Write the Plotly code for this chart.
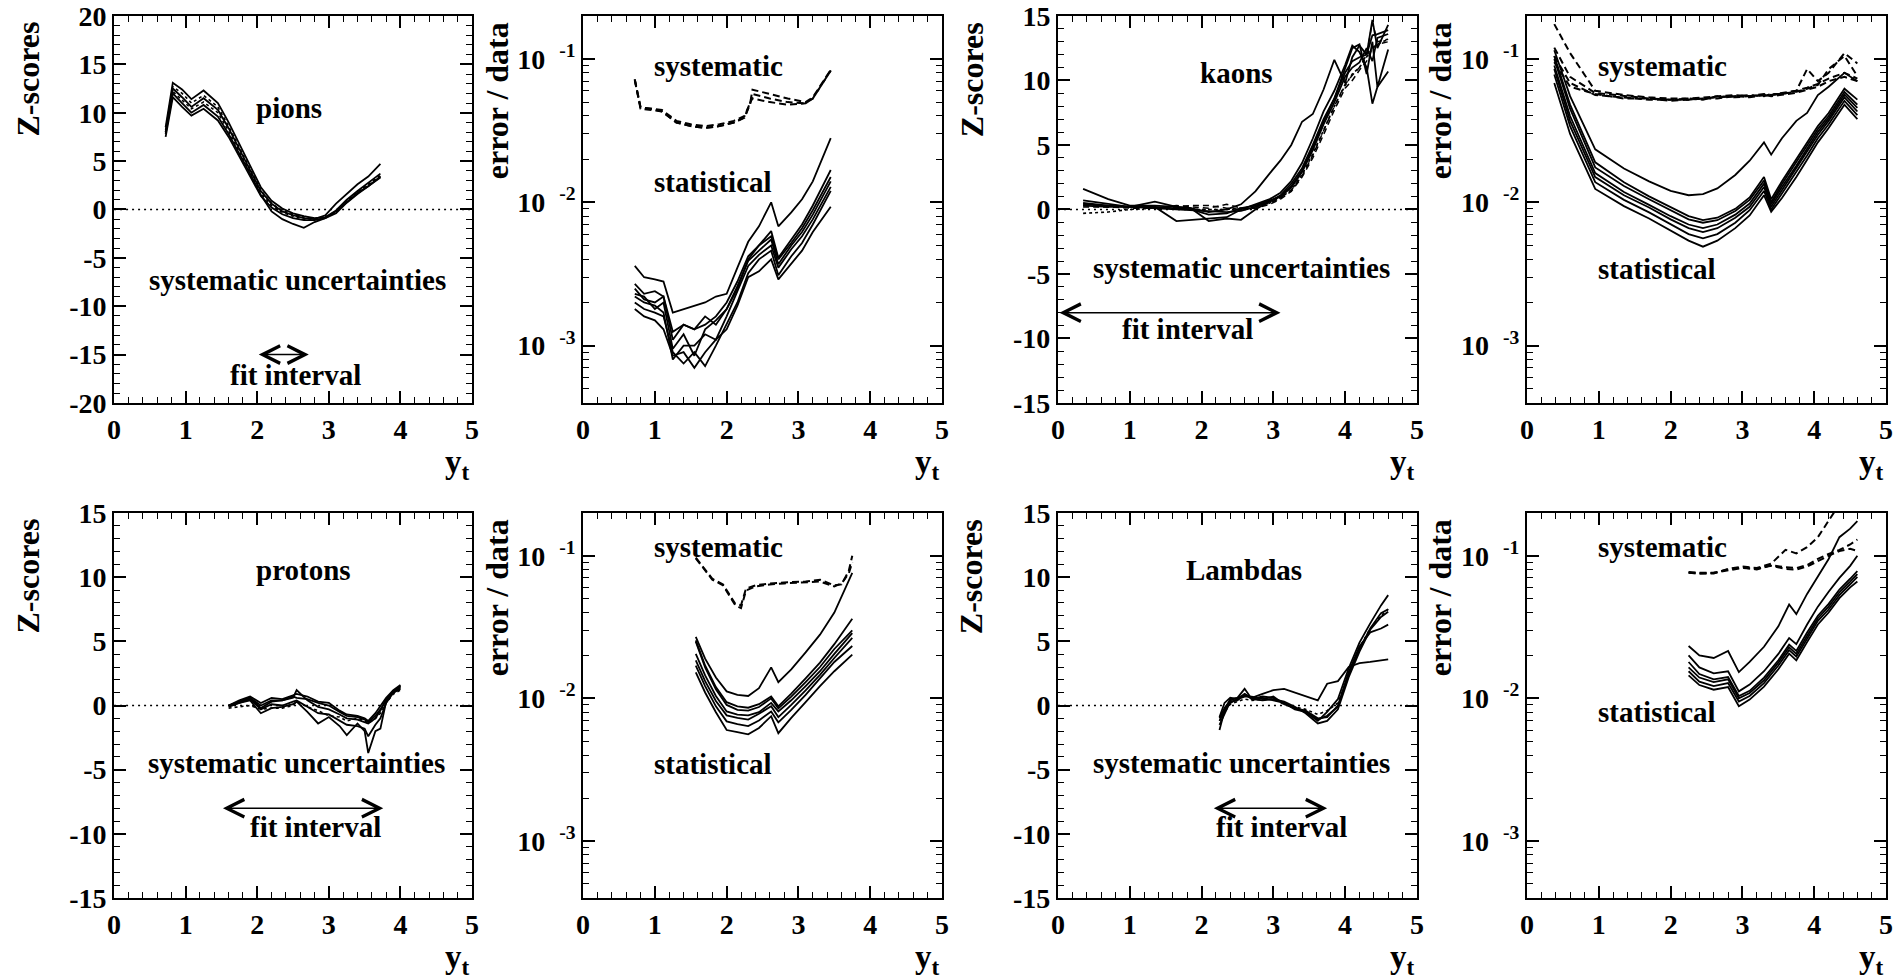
import plotly.graph_objects as go
import math

# ================= DATA =================
# --- pions: Z-scores ---
pion_z_x = [0.72, 0.82, 0.95, 1.08, 1.25, 1.45, 1.6, 1.75, 1.9, 2.05, 2.2, 2.35, 2.5, 2.65, 2.8, 2.95, 3.1, 3.25, 3.4, 3.55, 3.72]
pion_z_solid = [
    [8.5, 13.1, 12.4, 11.4, 12.3, 11.0, 9.0, 6.8, 4.5, 2.3, 0.9, 0.1, -0.4, -0.7, -0.9, -0.8, -0.1, 1.0, 1.9, 2.7, 3.7],
    [7.5, 11.6, 10.6, 9.7, 10.4, 9.2, 7.5, 5.5, 3.4, 1.4, 0.2, -0.5, -0.9, -1.1, -1.1, -0.9, -0.2, 0.8, 1.7, 2.4, 3.3],
    [7.8, 12.0, 11.0, 10.0, 10.8, 9.6, 7.8, 5.8, 3.7, 1.5, -0.2, -1.0, -1.5, -1.9, -1.3, -0.9, -0.4, 0.7, 1.6, 2.4, 3.4],
    [8.0, 12.5, 11.6, 10.6, 11.5, 10.3, 8.4, 6.2, 4.0, 1.9, 0.6, -0.2, -0.6, -0.9, -1.0, -0.6, 0.6, 1.6, 2.6, 3.4, 4.7],
]
pion_z_dotted = [
    [8.2, 12.7, 12.0, 11.0, 11.8, 10.6, 8.6, 6.4, 4.1, 2.0, 0.6, -0.1, -0.5, -0.8, -1.0, -0.8, -0.2, 0.9, 1.8, 2.6, 3.5],
    [8.0, 12.2, 11.3, 10.4, 11.1, 10.0, 8.1, 6.0, 3.8, 1.7, 0.4, -0.3, -0.7, -1.0, -1.0, -0.8, -0.2, 0.8, 1.7, 2.5, 3.4],
]

# --- pions: error / data ---
pion_stat_x = [0.72, 0.85, 1.0, 1.12, 1.25, 1.4, 1.55, 1.7, 1.85, 2.0, 2.15, 2.3, 2.45, 2.62, 2.72, 2.9, 3.05, 3.2, 3.45]
pion_stat = [
    [0.0036, 0.0030, 0.0029, 0.0028, 0.0017, 0.0018, 0.0019, 0.0020, 0.0022, 0.0023, 0.0035, 0.0053, 0.0068, 0.0100, 0.0068, 0.0085, 0.0105, 0.0140, 0.0280],
    [0.0027, 0.0023, 0.0024, 0.0022, 0.00125, 0.0014, 0.0013, 0.0016, 0.0014, 0.0018, 0.0025, 0.0040, 0.0050, 0.0063, 0.0041, 0.0055, 0.0070, 0.0095, 0.0168],
    [0.0025, 0.0021, 0.0020, 0.0022, 0.0011, 0.0014, 0.0013, 0.0014, 0.0016, 0.0020, 0.0028, 0.0042, 0.0050, 0.0058, 0.0040, 0.0052, 0.0066, 0.0088, 0.0150],
    [0.0023, 0.0022, 0.0018, 0.0020, 0.00095, 0.0012, 0.00085, 0.0013, 0.0015, 0.0018, 0.0026, 0.0039, 0.0046, 0.0055, 0.0037, 0.0050, 0.0062, 0.0082, 0.0140],
    [0.0022, 0.0020, 0.0019, 0.0017, 0.00080, 0.0010, 0.0010, 0.0012, 0.0011, 0.0016, 0.0024, 0.0036, 0.0043, 0.0050, 0.0035, 0.0047, 0.0058, 0.0076, 0.0128],
    [0.0020, 0.0018, 0.0017, 0.0016, 0.00090, 0.00075, 0.00090, 0.00072, 0.0010, 0.0014, 0.0020, 0.0032, 0.0040, 0.0046, 0.0031, 0.0042, 0.0052, 0.0070, 0.0120],
    [0.0018, 0.0016, 0.0015, 0.0013, 0.00085, 0.00090, 0.00070, 0.0009, 0.0011, 0.0013, 0.0019, 0.0030, 0.0033, 0.0040, 0.0029, 0.0037, 0.0046, 0.0062, 0.0093],
]
pion_sys_x = [0.72, 0.8, 0.95, 1.1, 1.3, 1.5, 1.7, 1.9, 2.1, 2.25, 2.33, 2.36, 2.6, 2.85, 3.1, 3.2, 3.45]
pion_sys = [
    [0.072, 0.046, 0.045, 0.044, 0.037, 0.035, 0.034, 0.035, 0.037, 0.040, 0.050, 0.061, 0.057, 0.053, 0.050, 0.054, 0.084],
    [0.072, 0.046, 0.045, 0.043, 0.036, 0.034, 0.033, 0.034, 0.036, 0.039, 0.049, 0.057, 0.053, 0.050, 0.049, 0.053, 0.083],
    [0.071, 0.045, 0.044, 0.043, 0.036, 0.034, 0.033, 0.034, 0.036, 0.039, 0.050, 0.053, 0.050, 0.048, 0.049, 0.053, 0.083],
]

# --- kaons: Z-scores ---
kaon_z_x = [0.35, 0.7, 1.0, 1.35, 1.65, 1.85, 2.1, 2.35, 2.55, 2.75, 2.95, 3.1, 3.25, 3.4, 3.55, 3.7, 3.85, 4.0, 4.1, 4.2, 4.3, 4.38, 4.45, 4.6]
kaon_z_solid = [
    [1.6, 0.8, 0.3, 0.3, 0.2, 0.1, -0.2, 0.0, 0.4, 1.4, 2.8, 3.8, 5.0, 6.8, 7.4, 9.3, 11.6, 9.8, 11.8, 12.7, 12.0, 14.7, 12.5, 14.3],
    [0.7, 0.4, 0.2, 0.6, 0.2, 0.1, -0.9, -0.7, -0.8, 0.0, 0.6, 1.1, 2.0, 3.2, 5.0, 7.0, 8.6, 10.9, 12.5, 12.8, 10.5, 13.0, 9.5, 12.4],
    [0.5, 0.3, 0.2, 0.2, -0.9, -0.8, -0.7, -0.6, 0.0, 0.4, 0.8, 1.3, 2.2, 3.6, 5.5, 7.6, 9.2, 11.2, 12.7, 12.2, 11.0, 8.2, 9.5, 10.7],
    [0.4, 0.3, 0.2, 0.2, 0.1, 0.0, -0.4, -0.3, 0.1, 0.3, 0.7, 1.0, 1.8, 3.0, 4.8, 6.8, 8.6, 10.6, 11.5, 11.8, 12.0, 13.5, 13.6, 13.9],
    [0.3, 0.2, 0.2, 0.1, 0.0, 0.0, -0.1, -0.2, -0.1, 0.2, 0.6, 1.0, 1.7, 2.9, 4.6, 6.6, 8.3, 10.3, 11.0, 11.4, 12.5, 11.5, 13.3, 13.6],
]
kaon_z_dashed = [
    [0.3, 0.2, 0.2, 0.1, 0.2, 0.3, 0.3, 0.1, 0.0, 0.2, 0.5, 0.9, 1.5, 2.6, 4.2, 6.1, 8.0, 9.7, 10.4, 11.0, 12.0, 14.5, 13.0, 13.2],
    [0.2, 0.2, 0.1, 0.1, 0.3, 0.2, 0.1, 0.4, 0.1, 0.1, 0.4, 0.8, 1.4, 2.5, 4.0, 5.8, 7.7, 9.4, 10.0, 10.8, 11.5, 12.5, 12.8, 13.0],
]
kaon_z_dotted = [
    [-0.3, -0.2, 0.0, 0.1, 0.1, 0.0, 0.0, 0.0, 0.1, 0.2, 0.5, 0.9, 1.5, 2.7, 4.3, 6.2, 8.0, 9.6, 10.5, 11.0, 11.8, 12.5, 12.8, 13.2],
]

# --- kaons: error / data ---
kaon_err_x = [0.38, 0.6, 0.95, 1.35, 1.7, 2.0, 2.25, 2.45, 2.65, 2.9, 3.1, 3.3, 3.4, 3.55, 3.75, 3.9, 4.05, 4.2, 4.42, 4.6]
kaon_stat = [
    [0.115, 0.055, 0.0234, 0.0172, 0.0140, 0.0120, 0.0112, 0.0114, 0.0125, 0.0155, 0.0195, 0.0262, 0.0215, 0.0280, 0.0370, 0.0420, 0.0560, 0.0640, 0.0800, 0.0700],
    [0.105, 0.048, 0.0190, 0.0138, 0.0110, 0.0092, 0.0080, 0.0075, 0.0078, 0.0090, 0.0108, 0.0150, 0.0105, 0.0140, 0.0200, 0.0260, 0.0340, 0.0420, 0.0620, 0.0520],
    [0.100, 0.045, 0.0175, 0.0130, 0.0105, 0.0088, 0.0076, 0.0072, 0.0075, 0.0087, 0.0104, 0.0142, 0.0100, 0.0134, 0.0190, 0.0248, 0.0325, 0.0400, 0.0590, 0.0480],
    [0.090, 0.040, 0.0160, 0.0118, 0.0096, 0.0080, 0.0070, 0.0066, 0.0070, 0.0082, 0.0098, 0.0135, 0.0097, 0.0128, 0.0180, 0.0236, 0.0310, 0.0385, 0.0565, 0.0455],
    [0.085, 0.037, 0.0150, 0.0112, 0.0092, 0.0076, 0.0066, 0.0062, 0.0066, 0.0078, 0.0093, 0.0128, 0.0093, 0.0122, 0.0172, 0.0226, 0.0296, 0.0370, 0.0540, 0.0430],
    [0.078, 0.034, 0.0138, 0.0104, 0.0085, 0.0070, 0.0060, 0.0056, 0.0060, 0.0072, 0.0088, 0.0120, 0.0089, 0.0115, 0.0162, 0.0212, 0.0280, 0.0350, 0.0510, 0.0405],
    [0.068, 0.030, 0.0124, 0.0094, 0.0077, 0.0063, 0.0054, 0.0049, 0.0054, 0.0066, 0.0081, 0.0112, 0.0086, 0.0107, 0.0150, 0.0198, 0.0262, 0.0330, 0.0480, 0.0380],
]
kaon_sys = [
    [0.175, 0.110, 0.060, 0.056, 0.054, 0.053, 0.053, 0.054, 0.055, 0.056, 0.055, 0.057, 0.056, 0.058, 0.060, 0.085, 0.070, 0.080, 0.110, 0.093],
    [0.120, 0.075, 0.058, 0.055, 0.053, 0.052, 0.052, 0.053, 0.054, 0.055, 0.056, 0.055, 0.057, 0.057, 0.059, 0.062, 0.066, 0.085, 0.105, 0.076],
    [0.105, 0.068, 0.056, 0.054, 0.052, 0.052, 0.053, 0.052, 0.055, 0.054, 0.055, 0.056, 0.055, 0.056, 0.058, 0.061, 0.064, 0.070, 0.075, 0.070],
    [0.095, 0.064, 0.057, 0.053, 0.053, 0.051, 0.052, 0.053, 0.053, 0.055, 0.054, 0.056, 0.056, 0.057, 0.060, 0.063, 0.067, 0.073, 0.080, 0.073],
]

# --- protons: Z-scores ---
proton_z_x = [1.6, 1.75, 1.9, 2.05, 2.2, 2.35, 2.5, 2.55, 2.7, 2.85, 3.0, 3.15, 3.25, 3.4, 3.5, 3.55, 3.65, 3.72, 3.8, 3.9, 4.0]
proton_z_solid = [
    [0.0, 0.4, 0.7, 0.2, 0.6, 0.5, 0.8, 0.9, 0.7, 0.3, 0.2, -0.4, -0.7, -0.8, -1.0, -1.2, -0.6, 0.0, 0.6, 1.2, 1.6],
    [0.0, 0.3, 0.6, -0.2, 0.3, 0.4, 0.6, 1.2, 0.4, -0.1, -0.3, -0.7, -1.0, -1.1, -1.3, -1.4, -1.0, -0.4, 0.5, 1.0, 1.4],
    [-0.1, 0.2, 0.4, -0.6, -0.2, -0.1, 0.1, 0.3, -0.5, -1.4, -0.9, -1.6, -2.3, -1.4, -2.0, -3.7, -2.0, -1.8, 0.3, 1.1, 1.5],
    [0.0, 0.2, 0.5, -0.3, 0.1, 0.0, 0.3, 0.4, -0.1, -0.6, -0.7, -1.2, -1.5, -1.6, -1.8, -2.4, -1.5, -1.0, 0.2, 1.0, 1.3],
    [0.0, 0.3, 0.6, 0.0, 0.4, 0.4, 0.7, 0.6, 0.5, 0.2, 0.0, -0.5, -0.8, -0.9, -1.1, -1.3, -0.8, -0.3, 0.4, 1.1, 1.5],
]
proton_z_dotted = [
    [-0.2, -0.1, 0.0, -0.3, -0.2, -0.2, 0.0, 0.3, -0.1, -0.4, -0.8, -0.9, -1.2, -1.0, -1.2, -1.4, -1.0, -0.6, 0.2, 0.9, 1.2],
]

# --- protons: error / data ---
proton_stat_x = [1.57, 1.7, 1.85, 2.0, 2.15, 2.3, 2.45, 2.62, 2.72, 2.9, 3.1, 3.3, 3.5, 3.75]
proton_stat = [
    [0.0270, 0.0190, 0.0140, 0.0112, 0.0106, 0.0104, 0.0118, 0.0165, 0.0130, 0.0160, 0.0210, 0.0280, 0.0400, 0.0760],
    [0.0255, 0.0170, 0.0120, 0.0094, 0.0088, 0.0086, 0.0091, 0.0103, 0.0088, 0.0108, 0.0138, 0.0178, 0.0240, 0.0362],
    [0.0250, 0.0165, 0.0116, 0.0090, 0.0083, 0.0082, 0.0087, 0.0100, 0.0085, 0.0103, 0.0130, 0.0166, 0.0222, 0.0300],
    [0.0205, 0.0145, 0.0104, 0.0081, 0.0077, 0.0076, 0.0080, 0.0093, 0.0081, 0.0097, 0.0122, 0.0155, 0.0205, 0.0287],
    [0.0185, 0.0132, 0.0096, 0.0076, 0.0073, 0.0071, 0.0078, 0.0088, 0.0074, 0.0090, 0.0114, 0.0146, 0.0192, 0.0266],
    [0.0170, 0.0122, 0.0088, 0.0069, 0.0066, 0.0064, 0.0070, 0.0081, 0.0068, 0.0083, 0.0106, 0.0137, 0.0180, 0.0233],
    [0.0152, 0.0110, 0.0080, 0.0060, 0.0058, 0.0056, 0.0062, 0.0075, 0.0057, 0.0073, 0.0094, 0.0122, 0.0155, 0.0203],
]
proton_sys_x = [1.57, 1.8, 1.95, 2.05, 2.12, 2.2, 2.27, 2.4, 2.6, 2.8, 3.1, 3.3, 3.5, 3.6, 3.7, 3.75]
proton_sys = [
    [0.097, 0.069, 0.063, 0.052, 0.046, 0.045, 0.059, 0.062, 0.064, 0.065, 0.066, 0.068, 0.062, 0.063, 0.078, 0.100],
    [0.096, 0.068, 0.062, 0.051, 0.045, 0.043, 0.057, 0.061, 0.063, 0.064, 0.065, 0.066, 0.061, 0.064, 0.075, 0.090],
]

# --- Lambdas: Z-scores ---
lambda_z_x = [2.25, 2.32, 2.4, 2.5, 2.6, 2.7, 2.85, 3.0, 3.15, 3.3, 3.45, 3.62, 3.75, 3.9, 4.05, 4.2, 4.35, 4.5, 4.6]
lambda_z_solid = [
    [-0.9, 0.2, 0.6, 0.5, 0.9, 0.6, 0.9, 1.2, 1.3, 1.0, 0.7, 0.4, 1.7, 1.9, 3.0, 3.3, 3.4, 3.5, 3.6],
    [-1.9, -0.4, 0.5, 0.6, 1.3, 0.5, 0.7, 0.6, 0.2, -0.3, -0.5, -1.2, -0.5, 0.5, 2.9, 4.9, 6.4, 7.8, 8.6],
    [-1.5, -0.6, 0.3, 0.4, 0.9, 0.5, 0.4, 0.5, 0.3, -0.1, -0.6, -1.4, -1.2, -0.3, 2.2, 4.2, 5.9, 6.9, 7.3],
    [-1.2, -0.4, 0.2, 0.5, 0.7, 0.7, 0.5, 0.7, 0.1, -0.2, -0.4, -1.0, -0.9, 0.0, 2.6, 4.6, 5.7, 6.0, 6.3],
    [-1.0, -0.2, 0.4, 0.6, 0.8, 0.6, 0.6, 0.4, 0.2, -0.2, -0.5, -1.1, -0.8, -0.1, 2.4, 4.4, 6.0, 7.2, 7.5],
]
lambda_z_dotted = [
    [-1.2, -0.5, 0.1, 0.3, 0.5, 0.4, 0.5, 0.5, 0.1, -0.1, -0.3, -0.7, -0.4, 0.2, 2.3, 4.5, 6.0, 7.0, 7.5],
]

# --- Lambdas: error / data ---
lambda_stat_x = [2.25, 2.4, 2.6, 2.8, 2.95, 3.1, 3.3, 3.5, 3.65, 3.75, 3.9, 4.05, 4.2, 4.35, 4.5, 4.6]
lambda_stat = [
    [0.0233, 0.0200, 0.0192, 0.0215, 0.0153, 0.0180, 0.0230, 0.0320, 0.0455, 0.0390, 0.0540, 0.0720, 0.0950, 0.1350, 0.1550, 0.1750],
    [0.0200, 0.0165, 0.0150, 0.0155, 0.0112, 0.0125, 0.0155, 0.0205, 0.0265, 0.0240, 0.0330, 0.0440, 0.0560, 0.0700, 0.0850, 0.1000],
    [0.0180, 0.0148, 0.0136, 0.0141, 0.0104, 0.0113, 0.0140, 0.0185, 0.0238, 0.0215, 0.0290, 0.0380, 0.0460, 0.0580, 0.0690, 0.0780],
    [0.0165, 0.0140, 0.0130, 0.0136, 0.0100, 0.0109, 0.0134, 0.0178, 0.0228, 0.0205, 0.0275, 0.0365, 0.0440, 0.0555, 0.0660, 0.0745],
    [0.0155, 0.0131, 0.0122, 0.0128, 0.0095, 0.0104, 0.0128, 0.0170, 0.0218, 0.0196, 0.0262, 0.0350, 0.0420, 0.0530, 0.0630, 0.0710],
    [0.0145, 0.0124, 0.0115, 0.0120, 0.0088, 0.0098, 0.0121, 0.0160, 0.0206, 0.0185, 0.0248, 0.0330, 0.0400, 0.0505, 0.0600, 0.0660],
]
lambda_sys_x = [2.25, 2.4, 2.6, 2.8, 3.0, 3.2, 3.4, 3.6, 3.75, 3.9, 4.05, 4.2, 4.35, 4.5, 4.6]
lambda_sys = [
    [0.076, 0.075, 0.075, 0.081, 0.084, 0.082, 0.088, 0.110, 0.104, 0.115, 0.135, 0.175, 0.230, 0.280, 0.320],
    [0.077, 0.076, 0.076, 0.080, 0.083, 0.080, 0.086, 0.083, 0.082, 0.086, 0.095, 0.103, 0.110, 0.120, 0.130],
    [0.076, 0.075, 0.076, 0.079, 0.082, 0.081, 0.085, 0.081, 0.080, 0.084, 0.092, 0.100, 0.108, 0.112, 0.108],
]

# zero reference line and fit intervals
zero_x = [0, 5]
zero_y = [0, 0]
fit_interval = {"pions": [2.0, 2.72], "kaons": [0.0, 3.1], "protons": [1.5, 3.76], "Lambdas": [2.15, 3.75]}
fit_arrow_y = {"pions": -15.0, "kaons": -8.0, "protons": -8.0, "Lambdas": -8.0}

# tick labels (ROOT style: hyphen minus, 10^n exponents)
z20_tickvals = [-20, -15, -10, -5, 0, 5, 10, 15, 20]
z20_ticktext = ["-20", "-15", "-10", "-5", "0", "5", "10", "15", "20"]
z15_tickvals = [-15, -10, -5, 0, 5, 10, 15]
z15_ticktext = ["-15", "-10", "-5", "0", "5", "10", "15"]
log_tickvals = [0.001, 0.01, 0.1]
log_ticktext = ["10\u00a0\u00a0<sup>-3</sup>", "10\u00a0\u00a0<sup>-2</sup>", "10\u00a0\u00a0<sup>-1</sup>"]

# ================= FIGURE =================
FONT = "Liberation Serif"
fig = go.Figure()

xdom = [[0.0602, 0.2491], [0.3077, 0.4971], [0.5583, 0.7477], [0.8058, 0.9953]]
ydom_top = [0.5884, 0.9837]
ydom_bot = [0.0827, 0.4760]


def sfx(i):
    return "" if i == 1 else str(i)


def line(i, x, y, dash="solid", width=1.8):
    fig.add_trace(go.Scatter(x=x, y=y, mode="lines", xaxis="x" + sfx(i), yaxis="y" + sfx(i),
                             line=dict(color="black", width=width, dash=dash),
                             showlegend=False, hoverinfo="skip"))


def zpanel(i, x, solid, dotted=(), dashed=()):
    line(i, zero_x, zero_y, dash="2px,4px", width=1.6)
    for s in solid:
        line(i, x, s)
    for s in dashed:
        line(i, x, s, dash="6px,4px", width=1.5)
    for s in dotted:
        line(i, x, s, dash="dot", width=1.6)


def epanel(i, sx, stat, yx, sys):
    for s in stat:
        line(i, sx, s)
    for s in sys:
        line(i, yx, s, dash="7px,4px", width=2.0)


zpanel(1, pion_z_x, pion_z_solid, pion_z_dotted)
epanel(2, pion_stat_x, pion_stat, pion_sys_x, pion_sys)
zpanel(3, kaon_z_x, kaon_z_solid, kaon_z_dotted, kaon_z_dashed)
epanel(4, kaon_err_x, kaon_stat, kaon_err_x, kaon_sys)
zpanel(5, proton_z_x, proton_z_solid, proton_z_dotted)
epanel(6, proton_stat_x, proton_stat, proton_sys_x, proton_sys)
zpanel(7, lambda_z_x, lambda_z_solid, lambda_z_dotted)
epanel(8, lambda_stat_x, lambda_stat, lambda_sys_x, lambda_sys)

tickfont = dict(family=FONT, size=28, color="black", weight="bold")
layout = dict(width=1895, height=979, margin=dict(l=0, r=0, t=0, b=0),
              paper_bgcolor="white", plot_bgcolor="white", showlegend=False)

minor_log = [m * 10.0 ** e for e in (-4, -3, -2, -1) for m in range(2, 10)]

for i in range(1, 9):
    col = (i - 1) % 4
    ydom = ydom_top if i <= 4 else ydom_bot
    common = dict(showline=True, linecolor="black", linewidth=2, mirror="ticks",
                  ticks="inside", ticklen=12, tickwidth=1.5, tickcolor="black",
                  showgrid=False, zeroline=False, tickfont=tickfont, automargin=False)
    layout["xaxis" + sfx(i)] = dict(domain=xdom[col], anchor="y" + sfx(i), range=[0, 5], dtick=1, tick0=0,
                                    minor=dict(ticks="inside", ticklen=6, dtick=0.2, tickcolor="black", tickwidth=1.2),
                                    **common)
    if col % 2 == 0:
        if i == 1:
            rng, tv, tt = [-20, 20], z20_tickvals, z20_ticktext
        else:
            rng, tv, tt = [-15, 15], z15_tickvals, z15_ticktext
        layout["yaxis" + sfx(i)] = dict(domain=ydom, anchor="x" + sfx(i), range=rng,
                                        tickmode="array", tickvals=tv, ticktext=tt,
                                        minor=dict(ticks="inside", ticklen=6, dtick=1, tick0=0, tickcolor="black", tickwidth=1.2),
                                        **common)
    else:
        layout["yaxis" + sfx(i)] = dict(domain=ydom, anchor="x" + sfx(i), type="log", range=[-3.4, -0.7],
                                        tickmode="array", tickvals=log_tickvals, ticktext=log_ticktext,
                                        minor=dict(ticks="inside", ticklen=6, tickvals=minor_log, tickcolor="black", tickwidth=1.2),
                                        **common)

fig.update_layout(**layout)


def note(i, x, y, text, size=29):
    fig.add_annotation(x=x, y=y, xref="x" + sfx(i), yref="y" + sfx(i), text=text, showarrow=False,
                       font=dict(family=FONT, size=size, color="black", weight="bold"),
                       xanchor="center", yanchor="middle")


def arrow(i, key):
    x0, x1 = fit_interval[key]
    yv = fit_arrow_y[key]
    fig.add_annotation(x=x1, y=yv, ax=x0, ay=yv, xref="x" + sfx(i), yref="y" + sfx(i),
                       axref="x" + sfx(i), ayref="y" + sfx(i),
                       text="", showarrow=True, arrowhead=5, startarrowhead=5, arrowside="end+start",
                       arrowsize=2.3, startarrowsize=2.3, arrowwidth=1.5, arrowcolor="black",
                       standoff=0, startstandoff=0)


lg = math.log10

note(1, 2.44, 10.5, "pions")
note(1, 2.56, -7.3, "systematic uncertainties")
note(1, 2.53, -17.1, "fit interval")
arrow(1, "pions")

note(3, 2.49, 10.6, "kaons")
note(3, 2.56, -4.5, "systematic uncertainties")
note(3, 1.81, -9.3, "fit interval")
arrow(3, "kaons")

note(5, 2.65, 10.55, "protons")
note(5, 2.55, -4.5, "systematic uncertainties")
note(5, 2.82, -9.5, "fit interval")
arrow(5, "protons")

note(7, 2.59, 10.55, "Lambdas")
note(7, 2.55, -4.5, "systematic uncertainties")
note(7, 3.11, -9.5, "fit interval")
arrow(7, "Lambdas")

note(2, 1.88, lg(0.0898), "systematic")
note(2, 1.81, lg(0.0138), "statistical")
note(4, 1.88, lg(0.0898), "systematic")
note(4, 1.81, lg(0.0034), "statistical")
note(6, 1.88, lg(0.115), "systematic")
note(6, 1.81, lg(0.00345), "statistical")
note(8, 1.88, lg(0.115), "systematic")
note(8, 1.81, lg(0.0080), "statistical")

# axis titles
for i in range(1, 9):
    col = (i - 1) % 4
    title = "Z-scores" if col % 2 == 0 else "error / data"
    fig.add_annotation(x=-0.24, y=0.99, xref="x" + sfx(i) + " domain", yref="y" + sfx(i) + " domain", text=title,
                       textangle=-90, showarrow=False, xanchor="center", yanchor="top",
                       font=dict(family=FONT, size=32, color="black", weight="bold"))
    fig.add_annotation(x=1.0, y=-0.10, xref="x" + sfx(i) + " domain", yref="y" + sfx(i) + " domain",
                       text="y<sub>t</sub>",
                       showarrow=False, xanchor="right", yanchor="top",
                       font=dict(family=FONT, size=33, color="black", weight="bold"))

fig.write_html("out.html")
